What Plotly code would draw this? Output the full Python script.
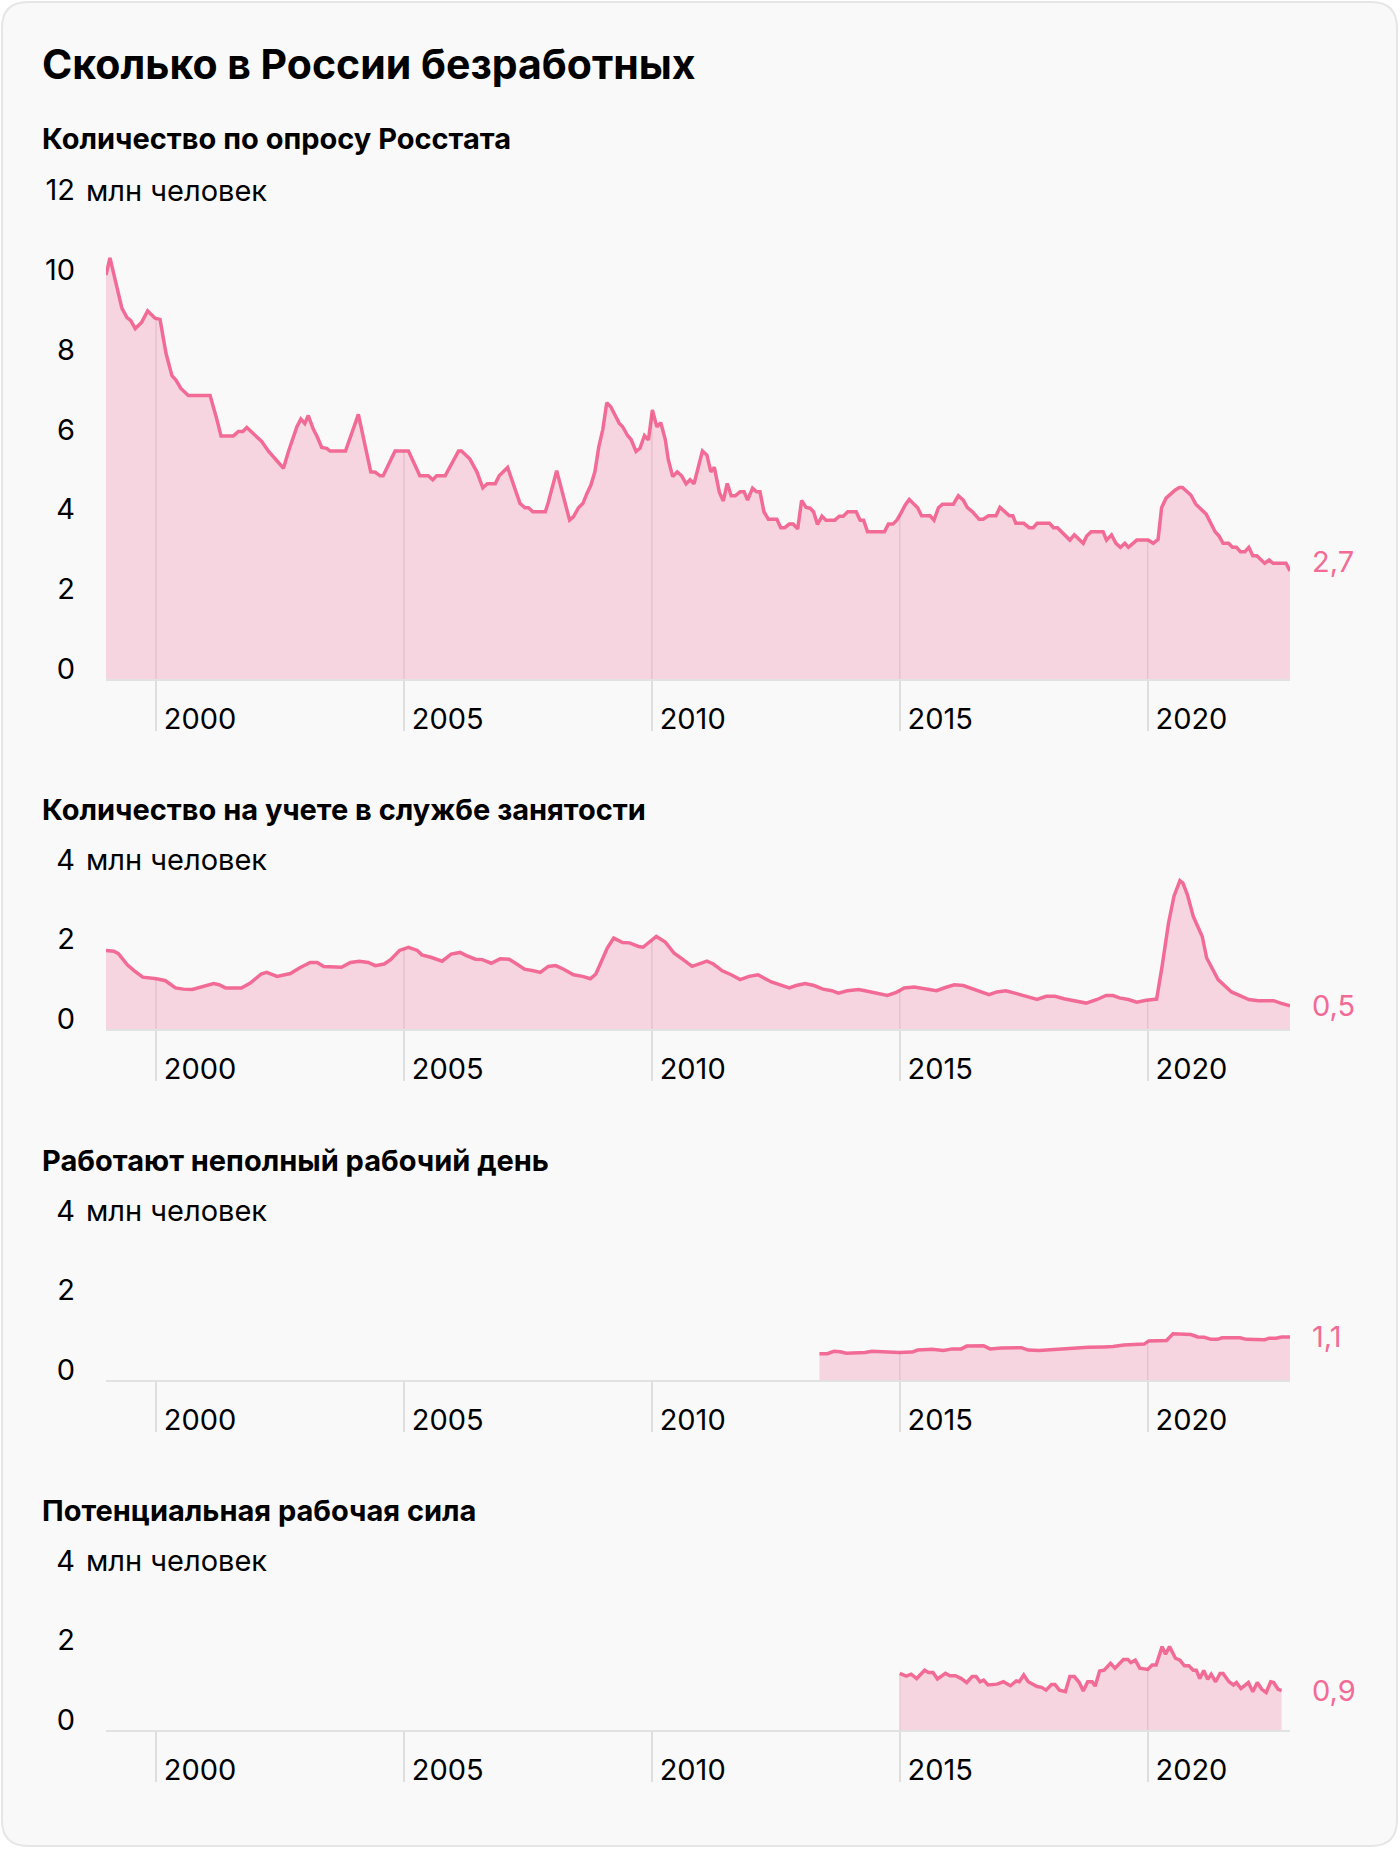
import numpy as np
import plotly.graph_objects as go

# ---------------- data ----------------
years_1 = [1998.99, 1999.07, 1999.31, 1999.41, 1999.49, 1999.58, 1999.71, 1999.83, 1999.98, 2000.08,
           2000.20, 2000.32, 2000.40, 2000.50, 2000.65, 2001.09, 2001.22, 2001.31, 2001.56, 2001.66,
           2001.75, 2001.83, 2002.13, 2002.27, 2002.57, 2002.67, 2002.84, 2002.92, 2003.00, 2003.07,
           2003.17, 2003.25, 2003.34, 2003.44, 2003.51, 2003.82, 2004.08, 2004.18, 2004.33, 2004.42,
           2004.52, 2004.58, 2004.82, 2005.09, 2005.32, 2005.49, 2005.58, 2005.66, 2005.83, 2006.10,
           2006.16, 2006.33, 2006.47, 2006.59, 2006.68, 2006.84, 2006.92, 2007.09, 2007.34, 2007.44,
           2007.51, 2007.60, 2007.85, 2007.91, 2008.08, 2008.34, 2008.42, 2008.52, 2008.61, 2008.69,
           2008.77, 2008.85, 2008.93, 2009.01, 2009.09, 2009.17, 2009.26, 2009.34, 2009.41, 2009.51,
           2009.58, 2009.68, 2009.76, 2009.85, 2009.93, 2010.01, 2010.10, 2010.18, 2010.27, 2010.33,
           2010.42, 2010.51, 2010.60, 2010.69, 2010.77, 2010.85, 2011.02, 2011.11, 2011.19, 2011.26,
           2011.36, 2011.44, 2011.52, 2011.60, 2011.68, 2011.78, 2011.86, 2011.93, 2012.03, 2012.11,
           2012.18, 2012.26, 2012.35, 2012.52, 2012.60, 2012.68, 2012.77, 2012.85, 2012.94, 2013.02,
           2013.11, 2013.19, 2013.26, 2013.34, 2013.43, 2013.51, 2013.69, 2013.78, 2013.86, 2013.95,
           2014.12, 2014.20, 2014.27, 2014.35, 2014.69, 2014.77, 2014.86, 2014.94, 2015.02, 2015.11,
           2015.19, 2015.27, 2015.36, 2015.44, 2015.61, 2015.69, 2015.78, 2015.86, 2016.08, 2016.18,
           2016.28, 2016.36, 2016.48, 2016.60, 2016.68, 2016.79, 2016.94, 2017.02, 2017.12, 2017.21,
           2017.28, 2017.34, 2017.50, 2017.61, 2017.69, 2017.77, 2018.02, 2018.10, 2018.18, 2018.30,
           2018.43, 2018.52, 2018.70, 2018.77, 2018.86, 2019.10, 2019.17, 2019.27, 2019.36, 2019.45,
           2019.54, 2019.61, 2019.78, 2020.01, 2020.11, 2020.21, 2020.28, 2020.37, 2020.55, 2020.64,
           2020.70, 2020.87, 2020.97, 2021.18, 2021.27, 2021.36, 2021.44, 2021.52, 2021.63, 2021.71,
           2021.79, 2021.87, 2021.96, 2022.04, 2022.12, 2022.20, 2022.36, 2022.45, 2022.53, 2022.79,
           2022.87]
survey_mln = [10.12, 10.55, 9.29, 9.06, 8.98, 8.78, 8.94, 9.22, 9.04, 9.01,
              8.16, 7.60, 7.49, 7.28, 7.10, 7.10, 6.53, 6.09, 6.09, 6.20,
              6.20, 6.30, 5.95, 5.70, 5.28, 5.70, 6.32, 6.51, 6.40, 6.60,
              6.26, 6.07, 5.80, 5.78, 5.71, 5.71, 6.63, 6.07, 5.19, 5.18,
              5.09, 5.09, 5.71, 5.71, 5.09, 5.09, 4.99, 5.09, 5.09, 5.71,
              5.71, 5.51, 5.19, 4.79, 4.89, 4.89, 5.09, 5.30, 4.40, 4.29,
              4.29, 4.19, 4.19, 4.42, 5.22, 3.98, 4.07, 4.29, 4.40, 4.65,
              4.86, 5.19, 5.82, 6.25, 6.92, 6.82, 6.61, 6.41, 6.32, 6.10,
              6.00, 5.70, 5.78, 6.10, 5.99, 6.74, 6.32, 6.42, 6.00, 5.50,
              5.07, 5.19, 5.09, 4.89, 4.99, 4.89, 5.71, 5.61, 5.19, 5.30,
              4.68, 4.46, 4.90, 4.59, 4.59, 4.69, 4.69, 4.48, 4.78, 4.69,
              4.69, 4.19, 4.00, 4.00, 3.79, 3.79, 3.88, 3.88, 3.76, 4.47,
              4.30, 4.28, 4.19, 3.87, 4.08, 3.98, 3.98, 4.08, 4.08, 4.19,
              4.19, 3.98, 3.98, 3.69, 3.69, 3.88, 3.88, 3.98, 4.15, 4.36,
              4.50, 4.40, 4.29, 4.09, 4.09, 3.98, 4.29, 4.38, 4.38, 4.59,
              4.48, 4.30, 4.17, 4.00, 4.00, 4.09, 4.09, 4.30, 4.19, 4.09,
              4.09, 3.90, 3.90, 3.79, 3.79, 3.90, 3.90, 3.79, 3.79, 3.65,
              3.48, 3.61, 3.40, 3.58, 3.69, 3.69, 3.48, 3.61, 3.40, 3.30,
              3.40, 3.30, 3.48, 3.48, 3.40, 3.50, 4.29, 4.53, 4.73, 4.80,
              4.80, 4.61, 4.38, 4.13, 3.90, 3.69, 3.58, 3.40, 3.40, 3.30,
              3.30, 3.19, 3.19, 3.30, 3.09, 3.09, 2.90, 2.98, 2.90, 2.90,
              2.71]

years_2 = [1998.99, 1999.15, 1999.24, 1999.42, 1999.55, 1999.73, 2000.01, 2000.19, 2000.39, 2000.55,
           2000.73, 2000.95, 2001.16, 2001.27, 2001.40, 2001.58, 2001.72, 2001.90, 2002.12, 2002.23,
           2002.44, 2002.71, 2002.89, 2003.11, 2003.25, 2003.38, 2003.56, 2003.74, 2003.92, 2004.10,
           2004.28, 2004.42, 2004.60, 2004.73, 2004.91, 2005.09, 2005.27, 2005.36, 2005.54, 2005.77,
           2005.95, 2006.13, 2006.26, 2006.44, 2006.58, 2006.76, 2006.94, 2007.12, 2007.25, 2007.43,
           2007.61, 2007.75, 2007.91, 2008.06, 2008.22, 2008.42, 2008.60, 2008.76, 2008.87, 2009.10,
           2009.23, 2009.41, 2009.55, 2009.73, 2009.82, 2009.95, 2010.09, 2010.27, 2010.45, 2010.63,
           2010.81, 2010.97, 2011.11, 2011.24, 2011.42, 2011.60, 2011.78, 2011.96, 2012.14, 2012.41,
           2012.59, 2012.77, 2012.91, 2013.09, 2013.27, 2013.45, 2013.63, 2013.76, 2013.94, 2014.17,
           2014.30, 2014.53, 2014.75, 2014.93, 2015.09, 2015.29, 2015.47, 2015.61, 2015.74, 2015.92,
           2016.10, 2016.28, 2016.46, 2016.64, 2016.80, 2016.96, 2017.14, 2017.32, 2017.54, 2017.77,
           2017.95, 2018.13, 2018.31, 2018.53, 2018.76, 2018.98, 2019.16, 2019.30, 2019.43, 2019.61,
           2019.78, 2019.97, 2020.18, 2020.29, 2020.42, 2020.53, 2020.65, 2020.71, 2020.80, 2020.92,
           2021.10, 2021.19, 2021.42, 2021.69, 2021.91, 2022.04, 2022.23, 2022.54, 2022.68, 2022.87]
registered_mln = [1.97, 1.95, 1.89, 1.61, 1.47, 1.30, 1.26, 1.21, 1.03, 1.00,
                  0.99, 1.07, 1.14, 1.11, 1.03, 1.03, 1.03, 1.15, 1.38, 1.42,
                  1.32, 1.39, 1.53, 1.67, 1.67, 1.57, 1.55, 1.55, 1.67, 1.70,
                  1.67, 1.59, 1.63, 1.74, 1.97, 2.05, 1.97, 1.86, 1.80, 1.70,
                  1.88, 1.92, 1.84, 1.75, 1.74, 1.65, 1.76, 1.75, 1.65, 1.50,
                  1.46, 1.42, 1.57, 1.59, 1.50, 1.36, 1.32, 1.26, 1.38, 2.03,
                  2.28, 2.17, 2.16, 2.07, 2.05, 2.18, 2.32, 2.18, 1.90, 1.74,
                  1.57, 1.64, 1.70, 1.63, 1.46, 1.36, 1.24, 1.32, 1.36, 1.18,
                  1.11, 1.03, 1.09, 1.14, 1.09, 1.00, 0.96, 0.90, 0.96, 0.99,
                  0.96, 0.90, 0.84, 0.92, 1.03, 1.05, 1.01, 1.00, 0.96, 1.04,
                  1.11, 1.09, 1.01, 0.94, 0.86, 0.93, 0.96, 0.90, 0.82, 0.74,
                  0.82, 0.82, 0.76, 0.71, 0.65, 0.74, 0.84, 0.84, 0.78, 0.74,
                  0.67, 0.72, 0.75, 1.57, 2.66, 3.33, 3.72, 3.66, 3.37, 2.82,
                  2.32, 1.78, 1.24, 0.93, 0.82, 0.74, 0.71, 0.71, 0.65, 0.58]

years_3 = [2013.38, 2013.54, 2013.67, 2013.80, 2013.92, 2014.12, 2014.30, 2014.44, 2014.57, 2014.75,
           2014.98, 2015.25, 2015.36, 2015.65, 2015.88, 2016.06, 2016.24, 2016.35, 2016.69, 2016.82,
           2017.05, 2017.45, 2017.59, 2017.81, 2018.08, 2018.31, 2018.53, 2018.80, 2019.12, 2019.30,
           2019.52, 2019.75, 2019.93, 2020.02, 2020.20, 2020.38, 2020.51, 2020.69, 2020.87, 2021.01,
           2021.14, 2021.28, 2021.41, 2021.50, 2021.86, 2021.99, 2022.36, 2022.45, 2022.59, 2022.70,
           2022.87]
parttime_mln = [0.66, 0.66, 0.72, 0.71, 0.67, 0.68, 0.69, 0.72, 0.71, 0.70,
                0.69, 0.70, 0.75, 0.77, 0.74, 0.78, 0.78, 0.85, 0.86, 0.78,
                0.80, 0.81, 0.75, 0.74, 0.76, 0.79, 0.81, 0.82, 0.83, 0.84,
                0.88, 0.89, 0.90, 0.98, 0.99, 0.99, 1.16, 1.15, 1.14, 1.08,
                1.07, 1.02, 1.02, 1.06, 1.06, 1.02, 1.01, 1.05, 1.05, 1.08,
                1.08]

years_4 = [2015.00, 2015.13, 2015.23, 2015.34, 2015.50, 2015.58, 2015.67, 2015.76, 2015.92, 2016.01,
           2016.12, 2016.24, 2016.35, 2016.46, 2016.54, 2016.62, 2016.69, 2016.78, 2016.96, 2017.09,
           2017.23, 2017.35, 2017.41, 2017.50, 2017.59, 2017.77, 2017.86, 2017.95, 2018.06, 2018.13,
           2018.22, 2018.34, 2018.43, 2018.52, 2018.62, 2018.70, 2018.79, 2018.88, 2018.94, 2019.03,
           2019.12, 2019.25, 2019.34, 2019.51, 2019.60, 2019.66, 2019.75, 2019.84, 2020.00, 2020.09,
           2020.17, 2020.29, 2020.36, 2020.44, 2020.56, 2020.65, 2020.74, 2020.83, 2020.92, 2020.98,
           2021.05, 2021.13, 2021.21, 2021.28, 2021.37, 2021.46, 2021.52, 2021.64, 2021.73, 2021.79,
           2021.88, 2022.03, 2022.12, 2022.21, 2022.30, 2022.39, 2022.48, 2022.54, 2022.63, 2022.70]
potential_mln = [1.42, 1.35, 1.40, 1.29, 1.50, 1.44, 1.44, 1.28, 1.42, 1.36,
                 1.36, 1.29, 1.19, 1.34, 1.34, 1.21, 1.25, 1.13, 1.15, 1.21,
                 1.11, 1.23, 1.21, 1.38, 1.21, 1.09, 1.07, 1.00, 1.14, 1.14,
                 1.00, 0.96, 1.34, 1.34, 1.19, 0.98, 1.21, 1.21, 1.10, 1.48,
                 1.50, 1.67, 1.55, 1.77, 1.77, 1.69, 1.75, 1.55, 1.52, 1.63,
                 1.63, 2.09, 1.90, 2.09, 1.80, 1.75, 1.61, 1.61, 1.50, 1.50,
                 1.29, 1.49, 1.27, 1.40, 1.21, 1.42, 1.42, 1.21, 1.13, 1.19,
                 1.04, 1.19, 0.96, 1.19, 1.02, 0.94, 1.21, 1.19, 1.02, 0.99]

chart_title = "Сколько в России безработных"
panel_titles = ["Количество по опросу Росстата",
                "Количество на учете в службе занятости",
                "Работают неполный рабочий день",
                "Потенциальная рабочая сила"]
y_max = [12, 4, 4, 4]
y_ticks = [[0, 2, 4, 6, 8, 10, 12], [0, 2, 4], [0, 2, 4], [0, 2, 4]]
unit_label = "млн человек"
end_labels = ["2,7", "0,5", "1,1", "0,9"]
year_ticks = [2000, 2005, 2010, 2015, 2020]
year_tick_text = ["2000", "2005", "2010", "2015", "2020"]
x_range = [1998.99, 2022.87]

series = [(years_1, survey_mln), (years_2, registered_mln),
          (years_3, parttime_mln), (years_4, potential_mln)]

# ---------------- styling / layout ----------------
W, H = 1400, 1850
FONT = "Inter"
LINE = "#f26b96"
FILL = "#f6d5e0"
TEXT = "#000000"
TICK_SIZE = 29

baselines = [679, 1029, 1380, 1730]
tops = [200, 869.5, 1220.5, 1570.5]
x_left, x_right = 106, 1290
title_y = 64
panel_title_y = [138, 810, 1160, 1510]
label_lift = 10


def py(y):
    return 1 - y / H


def px(x):
    return x / W


fig = go.Figure()
layout = dict(
    width=W, height=H,
    margin=dict(l=0, r=0, t=0, b=0, pad=0, autoexpand=False),
    paper_bgcolor="#ffffff",
    plot_bgcolor="rgba(0,0,0,0)",
    showlegend=False,
    font=dict(family=FONT, size=TICK_SIZE, color=TEXT),
)

shapes = []
annotations = []

# card background with rounded corners
r = 26
x0, y0, x1, y1 = 2, 2, W - 3, H - 4
rx, ry = r / W, r / H
X0, X1 = px(x0), px(x1)
Y0, Y1 = py(y0), py(y1)
card_path = (f"M {X0+rx},{Y0} L {X1-rx},{Y0} Q {X1},{Y0} {X1},{Y0-ry} "
             f"L {X1},{Y1+ry} Q {X1},{Y1} {X1-rx},{Y1} L {X0+rx},{Y1} "
             f"Q {X0},{Y1} {X0},{Y1+ry} L {X0},{Y0-ry} Q {X0},{Y0} {X0+rx},{Y0} Z")
shapes.append(dict(type="path", xref="paper", yref="paper", path=card_path,
                   fillcolor="#f9f9f9", line=dict(color="#e6e6e6", width=2), layer="below"))

annotations.append(dict(text=f"<b>{chart_title}</b>", xref="paper", yref="paper",
                        x=px(40), y=py(title_y), xanchor="left", yanchor="middle",
                        showarrow=False, font=dict(family=FONT, size=41, color=TEXT)))

for i, (xs, ys) in enumerate(series):
    n = "" if i == 0 else str(i + 1)
    xa, ya = "xaxis" + n, "yaxis" + n
    xr, yr = "x" + n, "y" + n

    fig.add_trace(go.Scatter(
        x=xs, y=ys, mode="lines", xaxis=xr, yaxis=yr,
        line=dict(color=LINE, width=3.5, shape="linear"),
        fill="tozeroy", fillcolor=FILL, hoverinfo="skip",
    ))

    layout[xa] = dict(
        domain=[px(x_left), px(x_right)], range=x_range, anchor=yr,
        automargin=False,
        showgrid=False, zeroline=False,
        showline=True, linecolor="#e2e2e2", linewidth=2, layer="below traces",
        tickmode="array", tickvals=year_ticks, ticktext=year_tick_text,
        ticks="outside", ticklen=50, tickwidth=1.5, tickcolor="#dedede",
        ticklabelposition="outside right", ticklabelstandoff=13, ticklabelshift=6,
        tickfont=dict(family=FONT, size=TICK_SIZE, color=TEXT),
        fixedrange=True,
    )
    layout[ya] = dict(
        domain=[py(baselines[i]), py(tops[i])], range=[0, y_max[i]], anchor=xr,
        automargin=False,
        showgrid=False, zeroline=False, showline=False,
        tickmode="array", tickvals=y_ticks[i], ticktext=[str(v) for v in y_ticks[i]],
        ticks="", ticklabelstandoff=30, ticklabelshift=-label_lift,
        tickfont=dict(family=FONT, size=TICK_SIZE, color=TEXT),
        fixedrange=True,
    )

    # year gridlines only under the curve
    for yr_tick in year_ticks:
        if xs[0] <= yr_tick <= xs[-1]:
            v = float(np.interp(yr_tick, xs, ys))
            shapes.append(dict(type="line", xref=xr, yref=yr, x0=yr_tick, x1=yr_tick,
                               y0=0, y1=v, line=dict(color="rgba(120,70,90,0.13)", width=1.5),
                               layer="above"))

    # unit label next to top tick
    annotations.append(dict(text=unit_label, xref="paper", yref=yr, x=px(84), y=y_max[i],
                            xanchor="left", yanchor="middle", yshift=label_lift,
                            showarrow=False, font=dict(family=FONT, size=TICK_SIZE, color=TEXT)))
    # panel title
    annotations.append(dict(text=f"<b>{panel_titles[i]}</b>", xref="paper", yref="paper",
                            x=px(40), y=py(panel_title_y[i]), xanchor="left", yanchor="middle",
                            showarrow=False, font=dict(family=FONT, size=29, color=TEXT)))
    # end value label
    annotations.append(dict(text=end_labels[i], xref="paper", yref=yr, x=px(1310), y=ys[-1],
                            xanchor="left", yanchor="middle", yshift=9 if i == 0 else 0,
                            showarrow=False, font=dict(family=FONT, size=TICK_SIZE, color=LINE)))

layout["shapes"] = shapes
layout["annotations"] = annotations
fig.update_layout(**layout)

fig.write_html("out.html", config={"displayModeBar": False},
               post_script="document.body.style.margin='0px';")
